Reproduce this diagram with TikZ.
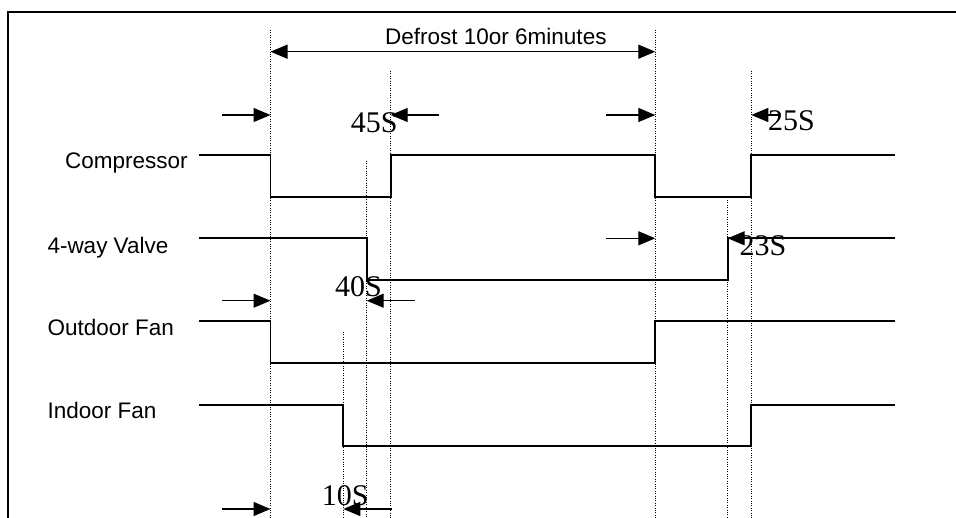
\documentclass[tikz,border=0pt]{standalone}
\usepackage{fontspec}
\setmainfont{Liberation Sans}
\newfontfamily\serifS{Liberation Serif}
\usetikzlibrary{arrows.meta}
\begin{document}
\begin{tikzpicture}[x=1pt,y=-1pt,
  sig/.style={line width=1.7pt},
  guide/.style={line width=1.1pt,dash pattern=on 1.1pt off 1.3pt},
  dimarrow/.style={line width=1.3pt,-{Triangle[length=17pt,width=14pt]}},
  dimboth/.style={line width=1.3pt,{Triangle[length=17pt,width=14pt]}-{Triangle[length=17pt,width=14pt]}},
  lbl/.style={font=\fontsize{22.5}{27}\selectfont,anchor=base west,inner sep=0pt},
  tlbl/.style={font=\serifS\fontsize{30}{34}\selectfont,anchor=base west,inner sep=0pt}]
\useasboundingbox (0,0) rectangle (956,518);
\draw[line width=2.4pt] (956,12) -- (8,12) -- (8,518);

\def\tA{270.5} \def\tB{343.3} \def\tC{366.7} \def\tD{390.7}
\def\tE{655.3} \def\tF{727.7} \def\tG{751.3}
\def\xs{199.3} \def\xe{895.3}

% guide lines
\coordinate (gA) at (\tA,30);  \coordinate (gAb) at (\tA,518);
\coordinate (gB) at (\tB,332); \coordinate (gBb) at (\tB,518);
\coordinate (gC) at (\tC,161); \coordinate (gCb) at (\tC,518);
\coordinate (gD) at (\tD,71);  \coordinate (gDb) at (\tD,518);
\coordinate (gE) at (\tE,30);  \coordinate (gEb) at (\tE,518);
\coordinate (gF) at (\tF,200); \coordinate (gFb) at (\tF,518);
\coordinate (gG) at (\tG,71);  \coordinate (gGb) at (\tG,518);
\foreach \g in {A,B,C,D,E,F,G} \draw[guide] (g\g) -- (g\g b);

% signal labels
\node[lbl] (comp) at (65,168.5) {Compressor};
\node[lbl] (valve) at (47.3,254) {4-way Valve};
\node[lbl] (ofan) at (47.3,335.5) {Outdoor Fan};
\node[lbl] (ifan) at (47.3,418.5) {Indoor Fan};

% signals
\draw[sig] (\xs,155) -- (\tA,155) -- (\tA,196.7) -- (\tD,196.7) -- (\tD,155)
  -- (\tE,155) -- (\tE,196.7) -- (\tG,196.7) -- (\tG,155) -- (\xe,155);
\draw[sig] (\xs,238.3) -- (\tC,238.3) -- (\tC,280.3) -- (\tF,280.3) -- (\tF,238.3) -- (\xe,238.3);
\draw[sig] (\xs,321.3) -- (\tA,321.3) -- (\tA,363.3) -- (\tE,363.3) -- (\tE,321.3) -- (\xe,321.3);
\draw[sig] (\xs,404.7) -- (\tB,404.7) -- (\tB,446.3) -- (\tG,446.3) -- (\tG,404.7) -- (\xe,404.7);

% defrost span
\coordinate (dL) at (\tA,51.7); \coordinate (dR) at (\tE,51.7);
\draw[dimboth] (dL) -- (dR);
\node[lbl] (defrost) at (385,45) {Defrost 10or 6minutes};

% timing markers
\coordinate (a1) at (222.3,115); \coordinate (a1t) at (\tA,115);
\coordinate (a2) at (439.3,115); \coordinate (a2t) at (\tD,115);
\coordinate (a3) at (606,115);   \coordinate (a3t) at (\tE,115);
\coordinate (a4) at (780,115);   \coordinate (a4t) at (\tG,115);
\coordinate (b1) at (606,238.3); \coordinate (b1t) at (\tE,238.3);
\coordinate (b2) at (775,238.3); \coordinate (b2t) at (\tF,238.3);
\coordinate (c1) at (222.3,300.7); \coordinate (c1t) at (\tA,300.7);
\coordinate (c2) at (415,300.7);   \coordinate (c2t) at (\tC,300.7);
\coordinate (e1) at (222.3,509);   \coordinate (e1t) at (\tA,509);
\coordinate (e2) at (391.7,509);   \coordinate (e2t) at (\tB,509);
\foreach \p in {a1,a2,a3,a4,b1,b2,c1,c2,e1,e2} \draw[dimarrow] (\p) -- (\p t);

\node[tlbl] (s45) at (350.7,132.5) {45S};
\node[tlbl] (s25) at (768,131) {25S};
\node[tlbl] (s23) at (739.3,256) {23S};
\node[tlbl] (s40) at (335,297) {40S};
\node[tlbl] (s10) at (321.7,505) {10S};
\end{tikzpicture}
\end{document}
